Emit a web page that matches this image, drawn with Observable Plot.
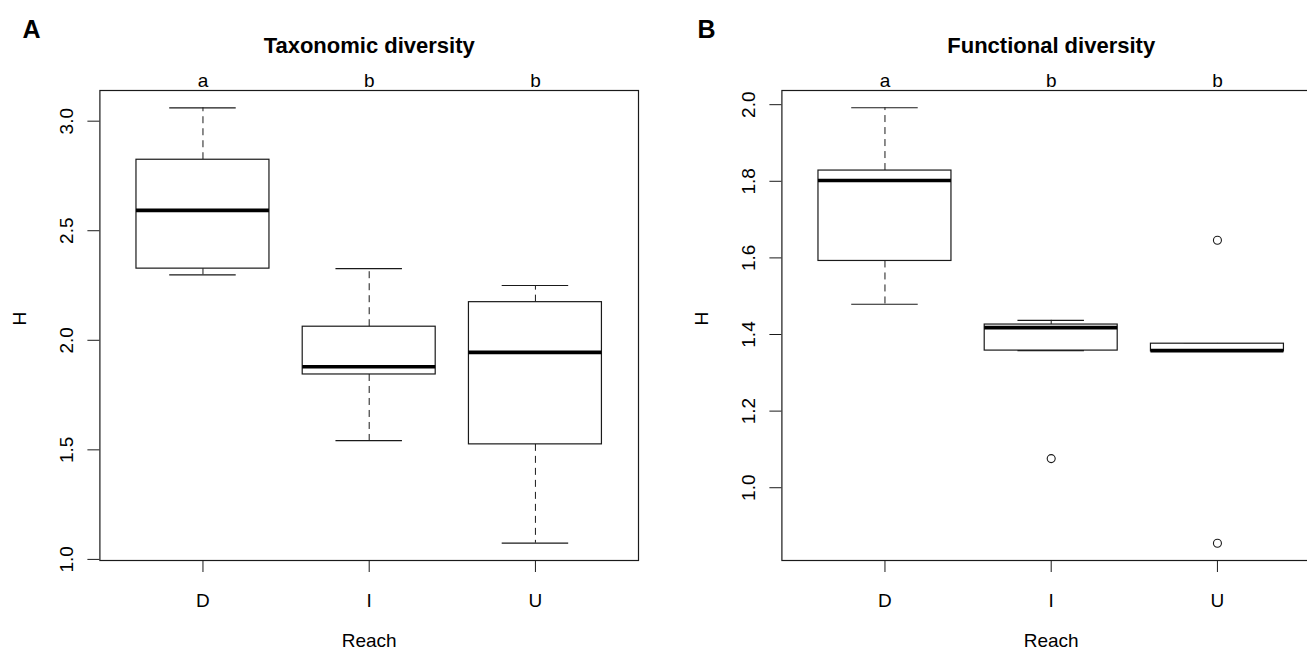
<!DOCTYPE html>
<html>
<head>
<meta charset="utf-8">
<script src="https://cdn.jsdelivr.net/npm/d3@7"></script>
<script src="https://cdn.jsdelivr.net/npm/@observablehq/plot@0.6"></script>
<style>
  html, body { margin: 0; padding: 0; background: #fff; overflow: hidden; }
  #wrap { position: relative; width: 1307px; height: 649px; overflow: hidden; }
  .panel { position: absolute; top: 0; width: 653px; height: 649px; }
  .panel svg { max-width: none !important; }
</style>
</head>
<body>
<div id="wrap">
  <div class="panel" id="pa" style="left:0px"></div>
  <div class="panel" id="pb" style="left:682px"></div>
</div>
<script>
// ---- data ----
const reaches = ["D", "I", "U"];
const letters = ["a", "b", "b"];

// Panel A: Taxonomic diversity (H)
const taxLow  = [2.299, 1.542, 1.074];
const taxQ1   = [2.327, 1.844, 1.525];
const taxMed  = [2.593, 1.879, 1.945];
const taxQ3   = [2.824, 2.062, 2.174];
const taxHigh = [3.061, 2.327, 2.250];
const taxOutReach = [];
const taxOutValue = [];
const taxTicks = [1.0, 1.5, 2.0, 2.5, 3.0];

// Panel B: Functional diversity (H)
const funLow  = [1.479, 1.358, 1.356];
const funQ1   = [1.592, 1.358, 1.356];
const funMed  = [1.802, 1.418, 1.358];
const funQ3   = [1.828, 1.426, 1.376];
const funHigh = [1.992, 1.437, 1.376];
const funOutReach = ["I", "U", "U"];
const funOutValue = [1.076, 1.646, 0.855];
const funTicks = [1.0, 1.2, 1.4, 1.6, 1.8, 2.0];

const FONT = "'Liberation Sans', Arial, Helvetica, sans-serif";
const INK = "#1a1a1a";
const FS = 19;

function panel({title, tag, tagDx, yDomain, yTicks, lo, q1, med, q3, hi, outReach, outValue}) {
  const rows = reaches.map((r, k) => ({
    i: k + 1, reach: r, letter: letters[k],
    lo: lo[k], q1: q1[k], med: med[k], q3: q3[k], hi: hi[k]
  }));
  const outs = outReach.map((r, k) => ({i: reaches.indexOf(r) + 1, v: outValue[k]}));
  const n = reaches.length;
  return Plot.plot({
    width: 653,
    height: 649,
    marginLeft: 99.4,
    marginRight: 15,
    marginTop: 90,
    marginBottom: 89,
    style: {fontFamily: FONT, fontSize: FS + "px", color: "#000", background: "transparent", overflow: "visible", maxWidth: "none"},
    x: {type: "linear", domain: [1 - 0.62, n + 0.62]},
    y: {domain: yDomain},
    marks: [
      Plot.frame({stroke: INK, strokeWidth: 1.2}),
      // whiskers
      Plot.ruleX(rows, {x: "i", y1: "q3", y2: "hi", stroke: INK, strokeWidth: 1, strokeDasharray: "7,5"}),
      Plot.ruleX(rows, {x: "i", y1: "q1", y2: "lo", stroke: INK, strokeWidth: 1, strokeDasharray: "7,5"}),
      // staples
      Plot.ruleY(rows, {y: "hi", x1: d => d.i - 0.2, x2: d => d.i + 0.2, stroke: INK, strokeWidth: 1.2}),
      Plot.ruleY(rows, {y: "lo", x1: d => d.i - 0.2, x2: d => d.i + 0.2, stroke: INK, strokeWidth: 1.2}),
      // boxes
      Plot.rect(rows, {x1: d => d.i - 0.4, x2: d => d.i + 0.4, y1: "q1", y2: "q3", fill: "white", stroke: INK, strokeWidth: 1.2}),
      // medians
      Plot.ruleY(rows, {y: "med", x1: d => d.i - 0.4, x2: d => d.i + 0.4, stroke: "#000", strokeWidth: 3.6}),
      // outliers
      Plot.dot(outs, {x: "i", y: "v", r: 4, stroke: INK, strokeWidth: 1.1, fill: "none"}),
      // axes
      Plot.axisX({ticks: reaches.map((r, k) => k + 1), tickFormat: v => reaches[v - 1], tickSize: 12, tickPadding: 21, fontSize: FS, label: null, stroke: INK}),
      Plot.axisY({ticks: yTicks, tickFormat: v => v.toFixed(1), tickSize: 12, tickRotate: -90, tickPadding: 15, fontSize: FS, label: null, stroke: INK}),
      // significance letters above each box
      Plot.text(rows, {x: "i", text: "letter", frameAnchor: "top", dy: -4, lineAnchor: "bottom", fontSize: FS}),
      // axis titles
      Plot.text(["Reach"], {frameAnchor: "bottom", dy: 86, lineAnchor: "bottom", fontSize: FS}),
      Plot.text(["H"], {frameAnchor: "left", dx: -80.4, rotate: -90, fontSize: FS}),
      // title and panel tag
      Plot.text([title], {frameAnchor: "top", dy: -38, lineAnchor: "bottom", fontWeight: "bold", fontSize: 22}),
      Plot.text([tag], {frameAnchor: "top-left", dx: tagDx, dy: -53, textAnchor: "start", lineAnchor: "bottom", fontWeight: "bold", fontSize: 25})
    ]
  });
}

document.getElementById("pa").append(panel({
  title: "Taxonomic diversity", tag: "A", tagDx: -77.4,
  yDomain: [0.995, 3.140], yTicks: taxTicks,
  lo: taxLow, q1: taxQ1, med: taxMed, q3: taxQ3, hi: taxHigh,
  outReach: taxOutReach, outValue: taxOutValue
}));
document.getElementById("pb").append(panel({
  title: "Functional diversity", tag: "B", tagDx: -84.4,
  yDomain: [0.810, 2.037], yTicks: funTicks,
  lo: funLow, q1: funQ1, med: funMed, q3: funQ3, hi: funHigh,
  outReach: funOutReach, outValue: funOutValue
}));
</script>
</body>
</html>
